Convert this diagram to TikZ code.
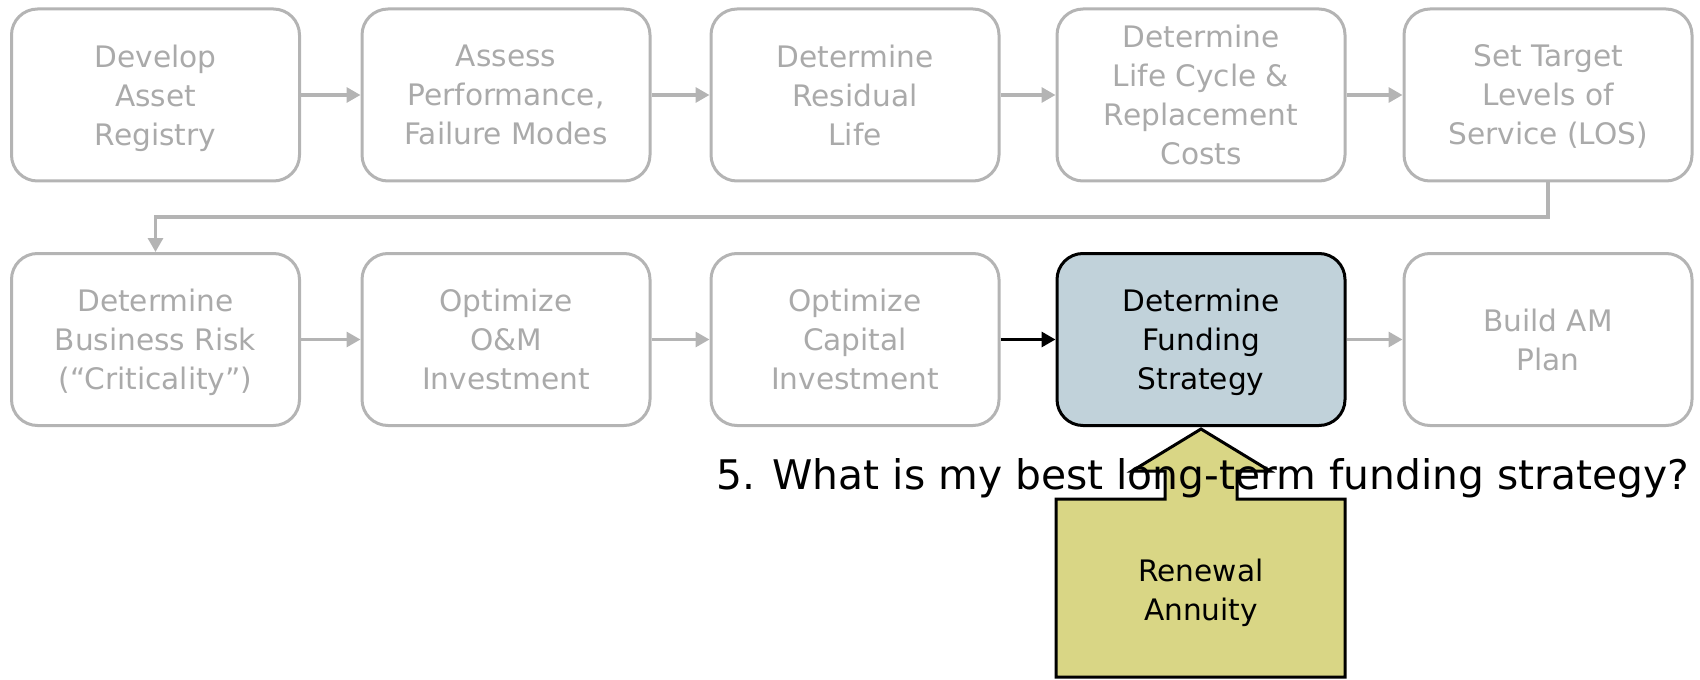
\documentclass[tikz,border=0pt]{standalone}
\usepackage{fontspec}
\setmainfont{DejaVu Sans}
\usetikzlibrary{arrows.meta}
\definecolor{boxgray}{RGB}{180,180,180}
\definecolor{txtgray}{RGB}{170,170,170}
\definecolor{fundblue}{RGB}{193,210,218}
\definecolor{annyellow}{RGB}{217,214,133}
\begin{document}
\begin{tikzpicture}[x=0.5pt,y=-0.5pt,
  boxtext/.style={align=center, font=\fontsize{14.8}{19.5}\selectfont, text depth=-0.8pt},
  stepbox/.style={boxtext, draw=boxgray, line width=1.5pt, rounded corners=13pt,
    minimum width=144pt, minimum height=86pt, inner sep=0pt,
    text=txtgray, fill=white},
  curbox/.style={stepbox, draw=black, fill=fundblue, text=black},
  flow/.style={draw=boxgray, line width=1.6pt, -{Triangle[length=7pt,width=7.5pt]}},
  curflow/.style={flow, draw=black},
  callout/.style={draw=black, line width=1.5pt, fill=annyellow, line join=miter}]
\useasboundingbox (0,0) rectangle (1700,679);
% row 1
\node[stepbox] (n1) at (155.5,95) {Develop\\Asset\\Registry};
\node[stepbox] (n2) at (506,95) {Assess\\Performance,\\Failure Modes};
\node[stepbox] (n3) at (855,95) {Determine\\Residual\\Life};
\node[stepbox] (n4) at (1201,95) {Determine\\Life Cycle \&\\Replacement\\Costs};
\node[stepbox] (n5) at (1548,95) {Set Target\\Levels of\\Service (LOS)};
% row 2
\node[stepbox] (n6) at (155.5,339.5) {Determine\\Business Risk\\(“Criticality”)};
\node[stepbox] (n7) at (506,339.5) {Optimize\\O\&M\\Investment};
\node[stepbox] (n8) at (855,339.5) {Optimize\\Capital\\Investment};
\node[curbox] (n9) at (1201,339.5) {Determine\\Funding\\Strategy};
\node[stepbox] (n10) at (1548,339.5) {Build AM\\Plan};
% connectors
\draw[flow] (n1) -- (n2);
\draw[flow] (n2) -- (n3);
\draw[flow] (n3) -- (n4);
\draw[flow] (n4) -- (n5);
\coordinate (turn) at (1548,217);
\draw[flow] (n5.south) -- (turn) -| (n6.north);
\draw[flow] (n6) -- (n7);
\draw[flow] (n7) -- (n8);
\draw[curflow] (n8) -- (n9);
\draw[flow] (n9) -- (n10);
% callout arrow
\draw[callout] (1056,677) -- (1056,499) -- (1165,499) -- (1165,471) -- (1132,471)
  -- (1201,429) -- (1270,471) -- (1237,471) -- (1237,499) -- (1345,499)
  -- (1345,677) -- cycle;
\node[boxtext, inner sep=0pt] (ann) at (1201,590) {Renewal\\Annuity};
\node[anchor=base west, inner sep=0pt, font=\fontsize{20.4}{25}\selectfont] (q) at (716,489)
  {5. What is my best long-term funding strategy?};
\end{tikzpicture}
\end{document}
